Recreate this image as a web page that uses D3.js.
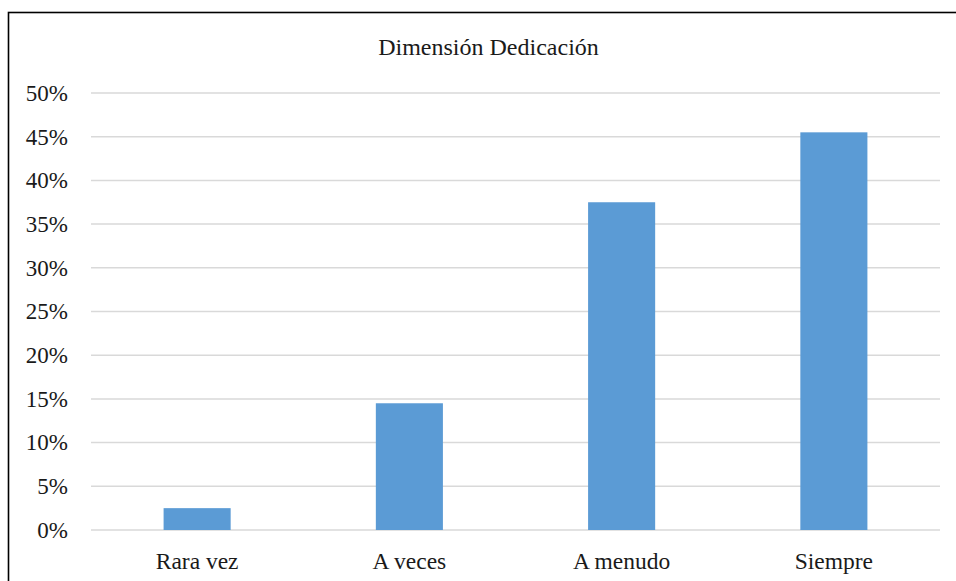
<!DOCTYPE html>
<html>
<head>
<meta charset="utf-8">
<script src="https://cdn.jsdelivr.net/npm/d3@7"></script>
<style>
  html, body { margin: 0; padding: 0; background: #fff; }
  svg { display: block; }
  text { font-family: "Liberation Serif", "Times New Roman", serif; fill: #1a1a1a; }
</style>
</head>
<body>
<svg id="chart" width="956" height="581"></svg>
<script>
// Chart data
const title = "Dimensión Dedicación";
const categories = ["Rara vez", "A veces", "A menudo", "Siempre"];
const values = [2.5, 14.5, 37.5, 45.5];
const yTicks = [0, 5, 10, 15, 20, 25, 30, 35, 40, 45, 50];

const svg = d3.select("#chart");
const W = 956, H = 581;
const plot = { left: 91, right: 940, top: 93, bottom: 530 };
const fontFamily = "Liberation Serif, Times New Roman, serif";

// Outer frame (runs past the right and bottom edges)
svg.append("rect")
  .attr("x", 8.5).attr("y", 12.5)
  .attr("width", W + 20).attr("height", H + 20)
  .attr("fill", "#fff")
  .attr("stroke", "#000")
  .attr("stroke-width", 1.6);

const x = d3.scaleBand()
  .domain(categories)
  .range([plot.left, plot.right])
  .paddingInner(0.684)
  .paddingOuter(0.342);

const y = d3.scaleLinear()
  .domain([0, 50])
  .range([plot.bottom, plot.top]);

// Horizontal gridlines
svg.append("g")
  .selectAll("line")
  .data(yTicks)
  .join("line")
  .attr("x1", plot.left).attr("x2", plot.right)
  .attr("y1", d => y(d)).attr("y2", d => y(d))
  .attr("stroke", "#d9d9d9")
  .attr("stroke-width", 1.5);

// Y-axis labels
const yAxis = d3.axisLeft(y)
  .tickValues(yTicks)
  .tickFormat(d => d + "%")
  .tickSize(0)
  .tickPadding(23);
const gy = svg.append("g")
  .attr("transform", `translate(${plot.left},0)`)
  .call(yAxis);
gy.select(".domain").remove();
gy.selectAll("text")
  .attr("font-size", 23)
  .attr("font-family", fontFamily)
  .attr("fill", "#1a1a1a");

// Bars
svg.append("g")
  .selectAll("rect")
  .data(categories.map((c, i) => ({ c, v: values[i] })))
  .join("rect")
  .attr("x", d => x(d.c))
  .attr("width", x.bandwidth())
  .attr("y", d => y(d.v))
  .attr("height", d => y(0) - y(d.v))
  .attr("fill", "#5b9bd5");

// Category labels
const xAxis = d3.axisBottom(x).tickSize(0).tickPadding(22);
const gx = svg.append("g")
  .attr("transform", `translate(0,${plot.bottom})`)
  .call(xAxis);
gx.select(".domain").remove();
gx.selectAll("text")
  .attr("font-size", 23.5)
  .attr("font-family", fontFamily)
  .attr("fill", "#1a1a1a");

// Title
svg.append("text")
  .attr("x", 488.5)
  .attr("y", 55)
  .attr("text-anchor", "middle")
  .attr("font-size", 24)
  .attr("font-family", fontFamily)
  .text(title);
</script>
</body>
</html>
